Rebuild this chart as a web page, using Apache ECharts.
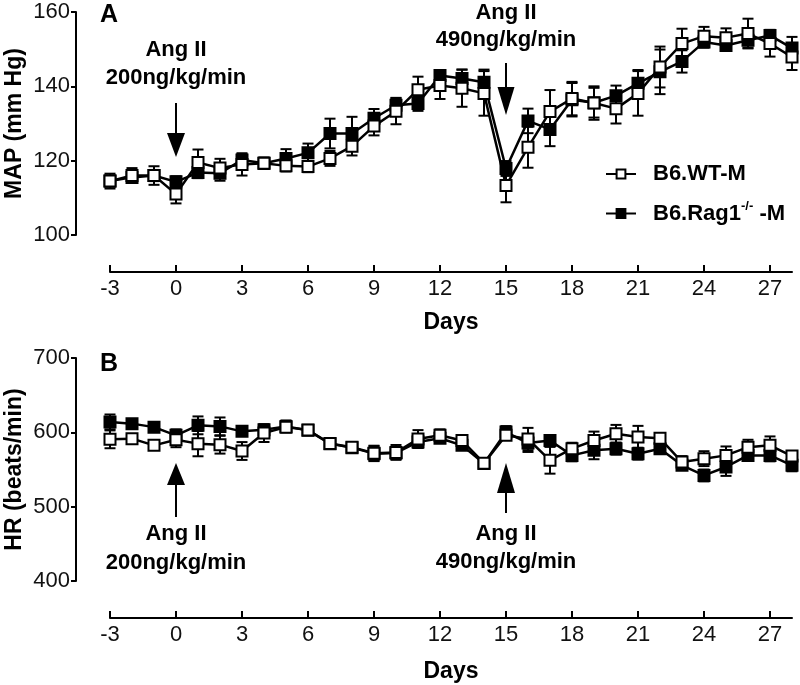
<!DOCTYPE html>
<html>
<head>
<meta charset="utf-8">
<script src="https://cdn.jsdelivr.net/npm/echarts@6/dist/echarts.min.js"></script>
<style>
html,body{margin:0;padding:0;background:#fff;}
#c{width:800px;height:685px;}
</style>
</head>
<body>
<div id="c"></div>
<script>
// ---- data ----
const days = [-3,-2,-1,0,1,2,3,4,5,6,7,8,9,10,11,12,13,14,15,16,17,18,19,20,21,22,23,24,25,26,27,28];
const xTicks = [-3,0,3,6,9,12,15,18,21,24,27];
const mapTicks = [100,120,140,160];
const hrTicks = [400,500,600,700];

const mapWT  = [114.5,116,116,111,119.5,118,119,119.3,118.6,118.4,120.6,123.9,129.3,133.3,139.1,140.2,139.5,138.1,113.3,123.6,133.2,136.7,135.5,134,138.1,145.2,151.5,153.5,153.1,154.2,151.5,147.9];
const mapWTerr = [2,2,2.5,2.5,3.5,2.5,3,1.5,1.5,1.5,2,2.5,2.5,3.5,3.5,3.6,5,6,4.5,5.5,5.8,4.5,4.5,4,6,5.5,4,2.5,2.5,4,3.5,3.5];
const mapRag = [114.5,115.5,116,114.3,116.8,116.6,120.2,119.3,120.6,122.1,127.3,127.3,131.4,134.9,135.4,142.9,142.1,141.1,117.9,130.7,128.4,136.4,135.6,137.5,140.8,143.9,146.7,151.9,151,152.4,153.7,150.3];
const mapRagErr = [1.5,1.5,1.5,1.5,1.5,2,1.5,1.5,2.5,2.5,4,4.5,2.5,2,2,1,2.4,3.4,2,3.3,4.5,4.5,4,2.7,3.6,6,3,1.5,1.5,2,1.5,3];

const hrWT  = [590.6,591.5,582.5,590,584.8,583.4,574.9,599,607,603,585,580,572,573,591,596,589,558.5,596,591,562.4,578,589,598,593.7,592,560,564.6,569,580,582.5,568];
const hrWTerr = [12,5,5,10,17,12,12,12,5,5,5,5,10,10,12,8,5,5,5,15,18,8,12,12,15,5,8,10,12,10,12,5];
const hrRag = [614,611.7,607,596,609.4,608,601.3,603.6,608,602.7,584.8,579.4,571.3,572.2,587,592,582.5,558,600.4,585.6,589,569,575.8,578,571.3,578,555.6,542,553.4,569,569,555.6];
const hrRagErr = [10,5,5,8,12,12,5,5,8,5,5,5,10,8,8,5,5,5,8,12,5,8,12,8,8,5,5,8,12,5,8,8];

const seriesNames = ['B6.WT-M', 'B6.Rag1-/- -M'];
const annot = [
  {day: 0, line1: 'Ang II', line2: '200ng/kg/min'},
  {day: 15, line1: 'Ang II', line2: '490ng/kg/min'}
];

// ---- helpers ----
const FONT = '"Liberation Sans", Arial, Helvetica, sans-serif';
function pairs(v){ return days.map((d,i)=>[d, v[i]]); }
function triples(v,e){ return days.map((d,i)=>[d, v[i], e[i]]); }

function errRender(params, api){
  const x = api.value(0), y = api.value(1), e = api.value(2);
  const t = api.coord([x, y + e]);
  const b = api.coord([x, y - e]);
  const w = 5.5;
  const st = {stroke:'#000', lineWidth:2};
  return {type:'group', children:[
    {type:'line', shape:{x1:t[0],y1:t[1],x2:b[0],y2:b[1]}, style:st},
    {type:'line', shape:{x1:t[0]-w,y1:t[1],x2:t[0]+w,y2:t[1]}, style:st},
    {type:'line', shape:{x1:b[0]-w,y1:b[1],x2:b[0]+w,y2:b[1]}, style:st}
  ]};
}

function errSeries(gi, v, e, z){
  return {type:'custom', xAxisIndex:gi, yAxisIndex:gi, renderItem:errRender,
    data:triples(v,e), encode:{x:0,y:1}, z:z, silent:true, clip:false};
}
function lineSeries(gi, name, v, filled, z){
  return {type:'line', name:name, xAxisIndex:gi, yAxisIndex:gi, data:pairs(v),
    symbol:'rect', symbolSize:11, showSymbol:true, clip:false, z:z,
    lineStyle:{color:'#000', width:2.5},
    itemStyle:{color: filled ? '#000' : '#fff', borderColor:'#000', borderWidth:2},
    emphasis:{disabled:true}, animation:false};
}

function xAxisCfg(gi, gap){
  return {type:'value', gridIndex:gi, min:-3, max:28, interval:3, offset:37,
    name:'Days', nameLocation:'middle', nameGap:gap, nameMoveOverlap:false,
    nameTextStyle:{fontFamily:FONT, fontWeight:'bold', fontSize:23, color:'#000'},
    axisLine:{show:true, onZero:false, lineStyle:{color:'#000', width:2}},
    axisTick:{show:true, inside:true, length:7, lineStyle:{color:'#000', width:2}, customValues:xTicks},
    axisLabel:{fontFamily:FONT, fontSize:22, color:'#111', margin:6, customValues:xTicks},
    splitLine:{show:false}};
}
function yAxisCfg(gi, min, max, interval, name){
  return {type:'value', gridIndex:gi, min:min, max:max, interval:interval, offset:34,
    name:name, nameLocation:'middle', nameGap:50, nameMoveOverlap:false,
    nameTextStyle:{fontFamily:FONT, fontWeight:'bold', fontSize:23, color:'#000'},
    axisLine:{show:true, onZero:false, lineStyle:{color:'#000', width:2}},
    axisTick:{show:true, inside:false, length:5, lineStyle:{color:'#000', width:2}},
    axisLabel:{fontFamily:FONT, fontSize:22, color:'#111', margin:6},
    splitLine:{show:false}};
}

const chart = echarts.init(document.getElementById('c'), null, {renderer:'canvas'});
const option = {
  animation:false,
  backgroundColor:'#fff',
  grid:[
    {left:110, right:8, top:12, height:223, containLabel:false, outerBoundsMode:'none'},
    {left:110, right:8, top:358, height:223, containLabel:false, outerBoundsMode:'none'}
  ],
  xAxis:[xAxisCfg(0, 39), xAxisCfg(1, 42)],
  yAxis:[yAxisCfg(0,100,160,20,'MAP (mm Hg)'), yAxisCfg(1,400,700,100,'HR (beats/min)')],
  legend:{
    orient:'vertical', left:605, top:163, padding:0, itemGap:15, itemWidth:30, itemHeight:11,
    data:[seriesNames[0], seriesNames[1]],
    selectedMode:false,
    textStyle:{fontFamily:FONT, fontWeight:'bold', fontSize:22, color:'#000', padding:[0,0,0,12],
      rich:{
        t:{fontFamily:FONT, fontWeight:'bold', fontSize:22, color:'#000'},
        s:{fontFamily:FONT, fontWeight:'bold', fontSize:13, color:'#000', padding:[0,0,14,0]}
      }},
    formatter:function(name){
      if (name === seriesNames[1]) return '{t|B6.Rag1}{s|-/-}{t| -M}';
      return '{t|' + name + '}';
    }
  },
  series:[
    errSeries(0, mapRag, mapRagErr, 1),
    lineSeries(0, seriesNames[1], mapRag, true, 2),
    errSeries(0, mapWT, mapWTerr, 3),
    lineSeries(0, seriesNames[0], mapWT, false, 4),
    errSeries(1, hrRag, hrRagErr, 1),
    lineSeries(1, seriesNames[1], hrRag, true, 2),
    errSeries(1, hrWT, hrWTerr, 3),
    lineSeries(1, seriesNames[0], hrWT, false, 4)
  ]
};
chart.setOption(option);

// ---- annotations (arrows + texts) positioned by axis conversion ----
const txtStyle = (s)=>({text:s, fontFamily:FONT, fontWeight:'bold', fontSize:22, fill:'#000', textAlign:'center', textVerticalAlign:'middle'});
const g = [];
// panel letters
g.push({type:'text', left:100, top:3, style:{text:'A', fontFamily:FONT, fontWeight:'bold', fontSize:25, fill:'#000'}});
g.push({type:'text', left:100, top:352, style:{text:'B', fontFamily:FONT, fontWeight:'bold', fontSize:25, fill:'#000'}});

// top panel: downward arrows; bottom panel: upward arrows
const topLayout = [
  {t1:50, t2:78, shaft:[103,135], head:[133,157], hw:9},
  {t1:13, t2:40, shaft:[63,89], head:[87,115], hw:8.5}
];
const botLayout = [
  {t1:534, t2:563, shaft:[485,517], head:[485,463], hw:9},
  {t1:534, t2:562, shaft:[493,513], head:[493,463], hw:9}
];
annot.forEach((a, i)=>{
  const xt = chart.convertToPixel({xAxisIndex:0}, a.day);
  const xb = chart.convertToPixel({xAxisIndex:1}, a.day);
  const L = topLayout[i], B = botLayout[i];
  g.push({type:'text', x:xt, y:L.t1, style:txtStyle(a.line1)});
  g.push({type:'text', x:xt, y:L.t2, style:txtStyle(a.line2)});
  g.push({type:'line', shape:{x1:xt,y1:L.shaft[0],x2:xt,y2:L.shaft[1]}, style:{stroke:'#000', lineWidth:2}});
  g.push({type:'polygon', shape:{points:[[xt-L.hw,L.head[0]],[xt+L.hw,L.head[0]],[xt,L.head[1]]]}, style:{fill:'#000'}});
  g.push({type:'text', x:xb, y:B.t1, style:txtStyle(a.line1)});
  g.push({type:'text', x:xb, y:B.t2, style:txtStyle(a.line2)});
  g.push({type:'line', shape:{x1:xb,y1:B.shaft[0],x2:xb,y2:B.shaft[1]}, style:{stroke:'#000', lineWidth:2}});
  g.push({type:'polygon', shape:{points:[[xb-B.hw,B.head[0]],[xb+B.hw,B.head[0]],[xb,B.head[1]]]}, style:{fill:'#000'}});
});
chart.setOption({graphic:{elements:g}});
</script>
</body>
</html>
